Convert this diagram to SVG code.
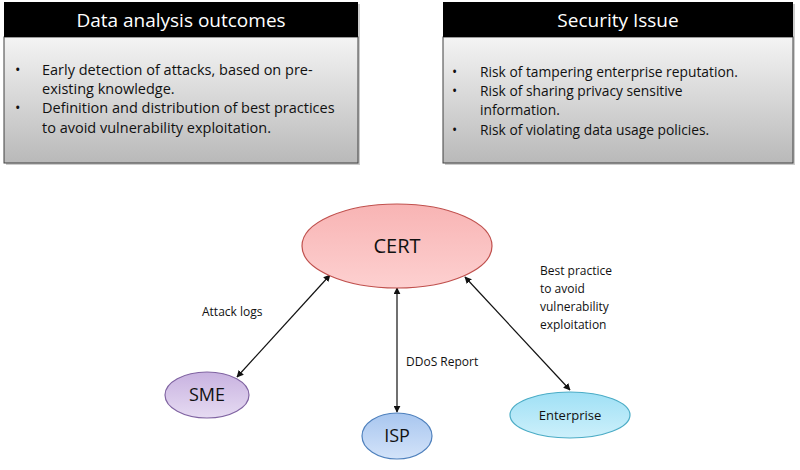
<svg xmlns="http://www.w3.org/2000/svg" width="800" height="470" viewBox="0 0 800 470">
<style>
text{font-family:"Open Sans","Liberation Sans",sans-serif;fill:#111}
.hdr{font-size:19px;fill:#fff;text-anchor:middle}
.bul{font-size:14.5px}
.bulr{font-size:13.8px}
.lbl{font-size:12px}
.node{font-size:18px;text-anchor:middle}
.conn{stroke:#111;stroke-width:1.2;fill:none;marker-start:url(#ah);marker-end:url(#ah)}
</style>
<defs>
<marker id="ah" viewBox="0 0 10 10" refX="9" refY="5" markerWidth="7" markerHeight="7" orient="auto-start-reverse" markerUnits="userSpaceOnUse"><path d="M0,0 L10,5 L0,10 z" fill="#111"/></marker>
<linearGradient id="gbox" x1="0" y1="0" x2="0" y2="1"><stop offset="0" stop-color="#f4f4f4"/><stop offset="1" stop-color="#b9b9b9"/></linearGradient>
<linearGradient id="gcert" x1="0" y1="0" x2="0" y2="1"><stop offset="0" stop-color="#f8b4b4"/><stop offset="1" stop-color="#fdd0d0"/></linearGradient>
<linearGradient id="gsme" x1="0" y1="0" x2="0" y2="1"><stop offset="0" stop-color="#c8b2e0"/><stop offset="1" stop-color="#e6dbf2"/></linearGradient>
<linearGradient id="gisp" x1="0" y1="0" x2="0" y2="1"><stop offset="0" stop-color="#a8c6ef"/><stop offset="1" stop-color="#d3e3f9"/></linearGradient>
<linearGradient id="gent" x1="0" y1="0" x2="0" y2="1"><stop offset="0" stop-color="#9fe0f5"/><stop offset="1" stop-color="#cdf0fb"/></linearGradient>
</defs>
<rect width="800" height="470" fill="#fff"/>
<g id="box-left">
<rect x="6" y="4" width="354" height="161" fill="#999" opacity="0.5"/>
<rect x="4" y="37" width="354" height="126" fill="url(#gbox)" stroke="#404040" stroke-width="1"/>
<rect x="4" y="2" width="354" height="35" fill="#000"/>
<text class="hdr" x="181" y="27">Data analysis outcomes</text>
<text class="bul" x="15" y="75">•</text>
<text class="bul" x="42" y="75">Early detection of attacks, based on pre-</text>
<text class="bul" x="42" y="94">existing knowledge.</text>
<text class="bul" x="15" y="113">•</text>
<text class="bul" x="42" y="113">Definition and distribution of best practices</text>
<text class="bul" x="42" y="133">to avoid vulnerability exploitation.</text>
</g>
<g id="box-right">
<rect x="445" y="4" width="350" height="161" fill="#999" opacity="0.5"/>
<rect x="443" y="37" width="350" height="126" fill="url(#gbox)" stroke="#404040" stroke-width="1"/>
<rect x="443" y="2" width="350" height="35" fill="#000"/>
<text class="hdr" x="618" y="27">Security Issue</text>
<text class="bulr" x="452" y="77">•</text>
<text class="bulr" x="480" y="77">Risk of tampering enterprise reputation.</text>
<text class="bulr" x="452" y="96">•</text>
<text class="bulr" x="480" y="96">Risk of sharing privacy sensitive</text>
<text class="bulr" x="480" y="115">information.</text>
<text class="bulr" x="452" y="135">•</text>
<text class="bulr" x="480" y="135">Risk of violating data usage policies.</text>
</g>
<g id="connectors">
<line class="conn" x1="237" y1="377" x2="330" y2="275"/>
<line class="conn" x1="397" y1="412" x2="397" y2="288"/>
<line class="conn" x1="570" y1="390" x2="465" y2="277"/>
<text class="lbl" x="202" y="316">Attack logs</text>
<text class="lbl" x="406" y="366">DDoS Report</text>
<text class="lbl" x="540" y="275">Best practice</text>
<text class="lbl" x="540" y="293">to avoid</text>
<text class="lbl" x="540" y="311">vulnerability</text>
<text class="lbl" x="540" y="329">exploitation</text>
</g>
<g id="node-cert">
<ellipse cx="397" cy="246" rx="95" ry="42" fill="url(#gcert)" stroke="#c0504d" stroke-width="1.2"/>
<text class="node" x="397" y="253" style="font-size:20px">CERT</text>
</g>
<g id="node-sme">
<ellipse cx="207" cy="395" rx="42" ry="23" fill="url(#gsme)" stroke="#8064a2" stroke-width="1.2"/>
<text class="node" x="207" y="401">SME</text>
</g>
<g id="node-isp">
<ellipse cx="397" cy="436" rx="35" ry="23" fill="url(#gisp)" stroke="#4f81bd" stroke-width="1.2"/>
<text class="node" x="397" y="442">ISP</text>
</g>
<g id="node-enterprise">
<ellipse cx="570" cy="415" rx="60" ry="23" fill="url(#gent)" stroke="#4bacc6" stroke-width="1.2"/>
<text class="node" x="570" y="420" style="font-size:13px">Enterprise</text>
</g>
</svg>
